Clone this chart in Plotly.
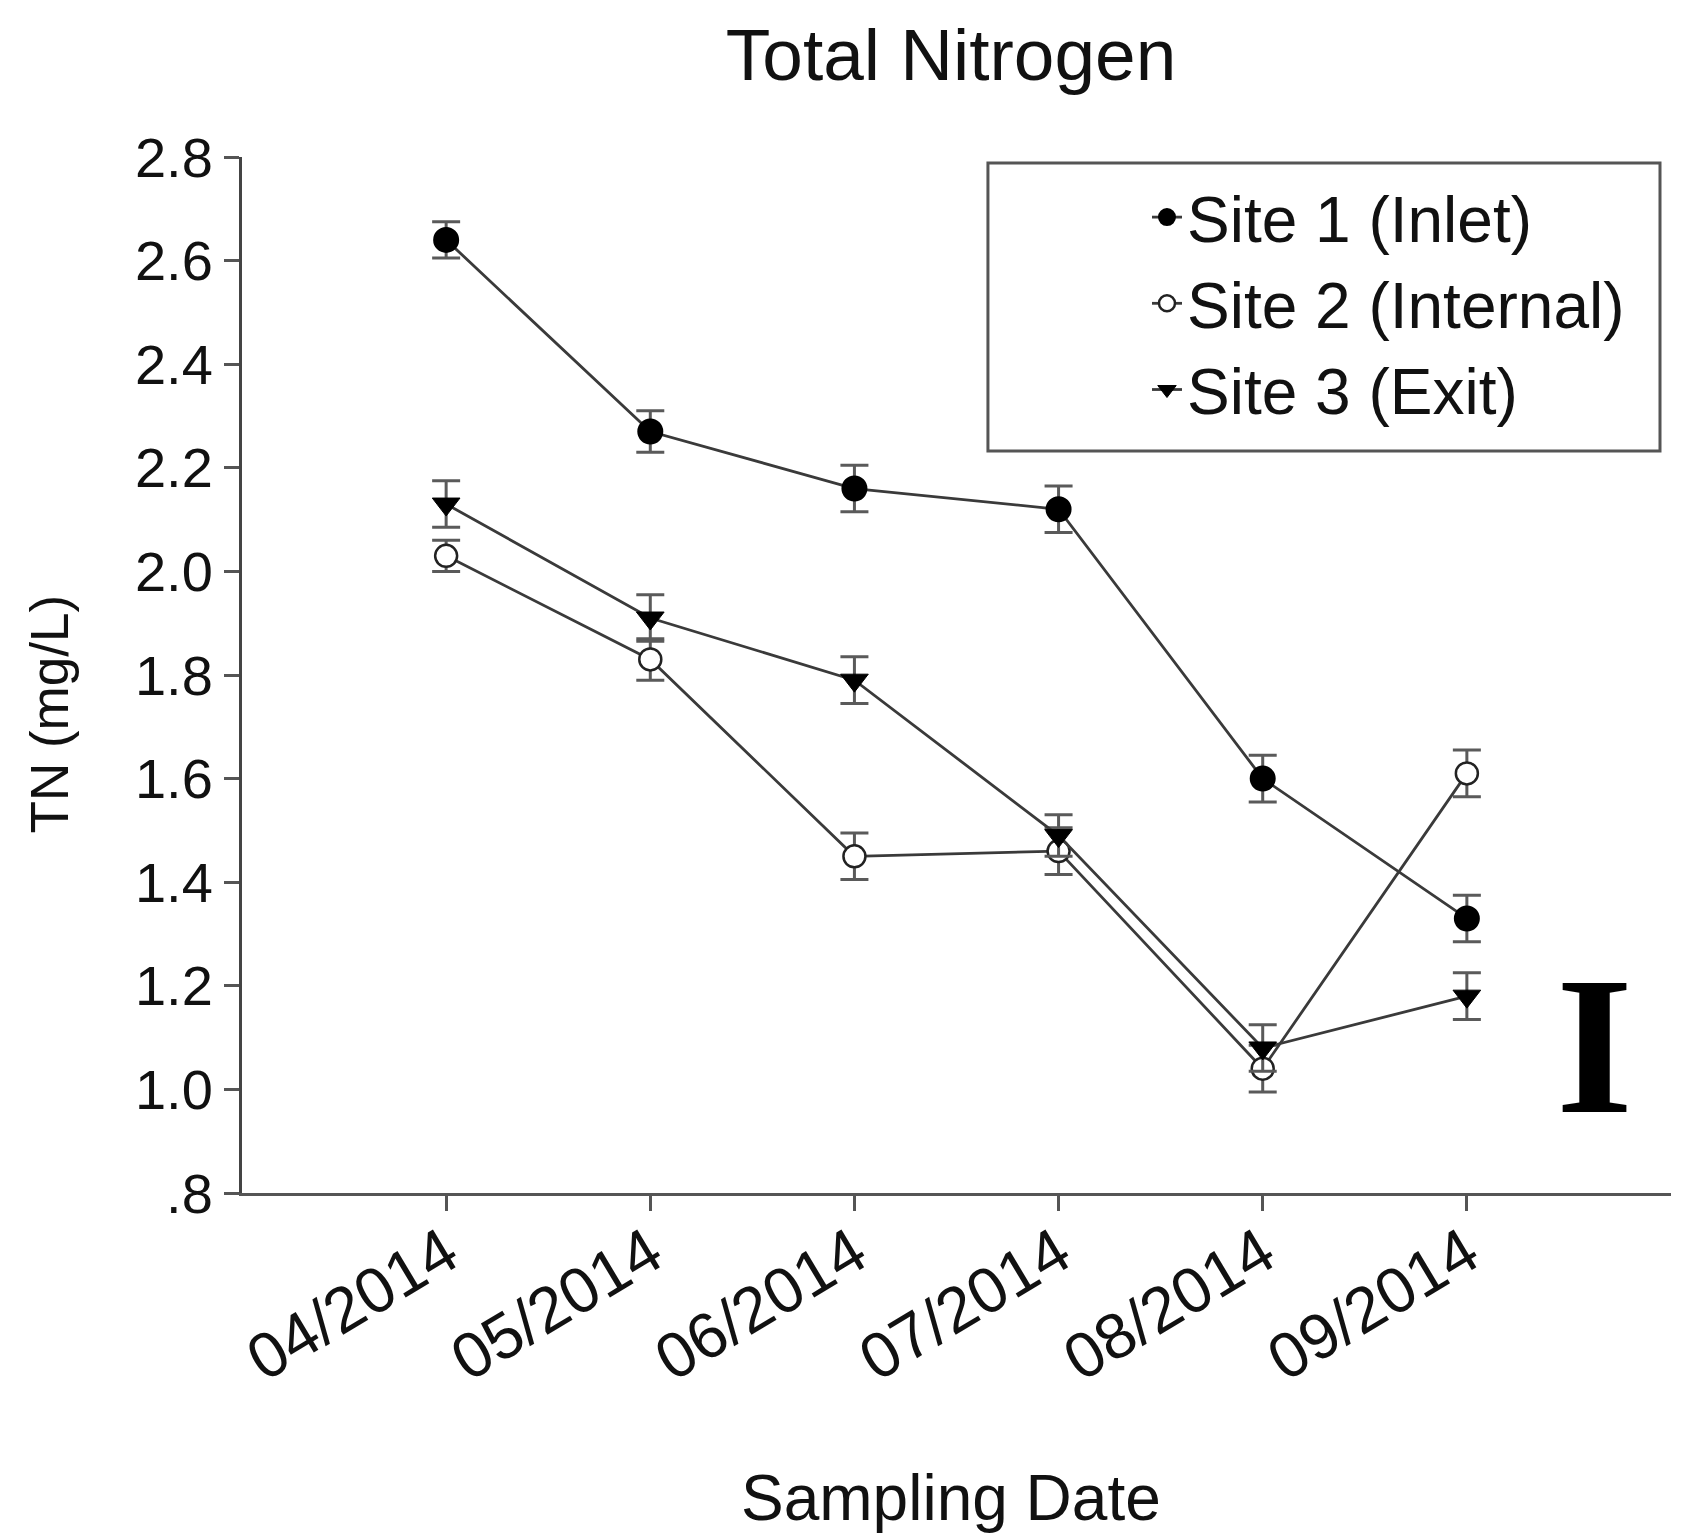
import plotly.graph_objects as go

# sampling months (categorical x axis)
dates = ["04/2014", "05/2014", "06/2014", "07/2014", "08/2014", "09/2014"]

# TN (mg/L)
site1 = [2.64, 2.27, 2.16, 2.12, 1.60, 1.33]
site2 = [2.03, 1.83, 1.45, 1.46, 1.04, 1.61]
site3 = [2.13, 1.91, 1.79, 1.49, 1.08, 1.18]

# error bars (+/-)
site1_err = [0.035, 0.04, 0.045, 0.045, 0.045, 0.045]
site2_err = [0.03, 0.04, 0.045, 0.045, 0.045, 0.045]
site3_err = [0.045, 0.045, 0.045, 0.04, 0.045, 0.045]

y_ticks = [0.8, 1.0, 1.2, 1.4, 1.6, 1.8, 2.0, 2.2, 2.4, 2.6, 2.8]
y_tick_text = [".8", "1.0", "1.2", "1.4", "1.6", "1.8", "2.0", "2.2", "2.4", "2.6", "2.8"]

FONT = "Liberation Sans, Arial, sans-serif"
LINE = "#3a3a3a"
ERR = "#5a5a5a"

xs = list(range(len(dates)))

series = [
    ("Site 1 (Inlet)", site1, site1_err, dict(symbol="circle", color="black", size=24,
                                              line=dict(color="black", width=2))),
    ("Site 2 (Internal)", site2, site2_err, dict(symbol="circle", color="white", size=22,
                                                 line=dict(color="#222", width=2.5))),
    ("Site 3 (Exit)", site3, site3_err, dict(symbol="triangle-down", color="black", size=24,
                                             line=dict(color="black", width=1))),
]

fig = go.Figure()
for name, vals, err, mk in series:
    fig.add_trace(go.Scatter(
        x=xs, y=vals, name=name, mode="lines+markers",
        line=dict(color=LINE, width=2.8),
        marker=mk,
        error_y=dict(type="data", array=err, visible=True,
                     color=ERR, thickness=3, width=14),
    ))

# panel letter at the lower right
fig.add_annotation(
    x=5.623, y=1.085, xref="x", yref="y", text="<b>I</b>", showarrow=False,
    xanchor="center", yanchor="middle",
    font=dict(family="Liberation Serif, Times New Roman, serif", size=198, color="black"),
)

# axis titles as annotations so they sit where the original has them
fig.add_annotation(
    x=0.4962, y=-0.2944, xref="paper", yref="paper", text="Sampling Date",
    showarrow=False, xanchor="center", yanchor="middle",
    font=dict(family=FONT, size=64, color="#111"),
)
fig.add_annotation(
    x=-0.135, y=0.462, xref="paper", yref="paper", text="TN (mg/L)",
    showarrow=False, textangle=-90, xanchor="center", yanchor="middle",
    font=dict(family=FONT, size=53, color="#111"),
)

# legend frame
fig.add_shape(
    type="rect", xref="paper", yref="paper",
    x0=0.522, x1=0.9923, y0=0.7162, y1=0.9942,
    line=dict(color="#555", width=3), fillcolor="rgba(0,0,0,0)", layer="below",
)

fig.update_layout(
    width=1698, height=1536,
    margin=dict(l=234, r=35, t=149, b=351),
    paper_bgcolor="white", plot_bgcolor="white",
    font=dict(family=FONT, color="#111"),
    title=dict(text="Total Nitrogen", x=0.4962, xref="paper", y=0.970, yref="container",
               xanchor="center", yanchor="middle",
               font=dict(family=FONT, size=73, color="#111")),
    showlegend=True,
    legend=dict(
        x=0.6333, y=0.9884, xanchor="left", yanchor="top",
        borderwidth=0, bgcolor="rgba(0,0,0,0)",
        font=dict(family=FONT, size=64, color="#111"),
        tracegroupgap=0, itemsizing="trace",
    ),
)

fig.update_xaxes(
    range=[-1, 6], tickvals=xs, ticktext=dates, tickangle=-31,
    showgrid=False, zeroline=False,
    showline=True, linecolor="#555", linewidth=3,
    ticks="outside", ticklen=15, tickwidth=3, tickcolor="#555",
    ticklabelstandoff=-20,
    tickfont=dict(family=FONT, size=64, color="#111"),
)
fig.update_yaxes(
    range=[0.8, 2.8], tickvals=y_ticks, ticktext=y_tick_text,
    showgrid=False, zeroline=False,
    showline=True, linecolor="#444", linewidth=3,
    ticks="outside", ticklen=15, tickwidth=3, tickcolor="#555",
    tickfont=dict(family=FONT, size=56, color="#111"),
)

fig.write_html("out.html")
